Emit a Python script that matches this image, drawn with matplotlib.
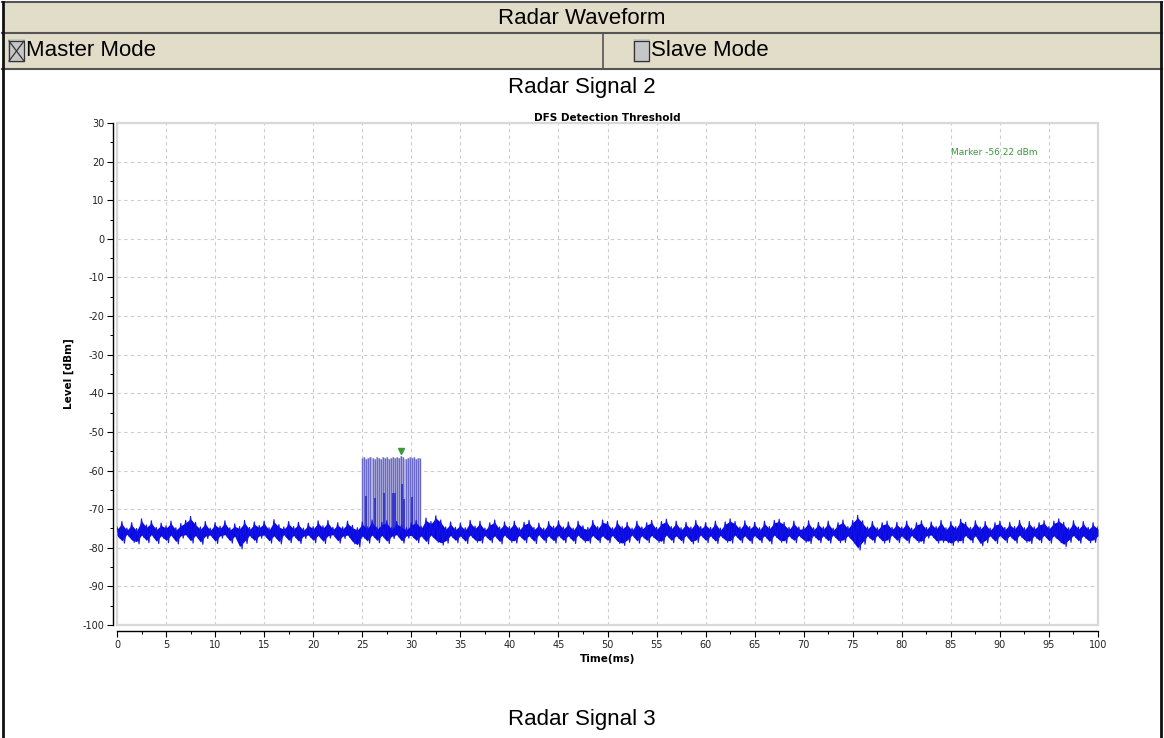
import numpy as np
import matplotlib
matplotlib.use("Agg")
import matplotlib.pyplot as plt
from matplotlib.patches import Rectangle
from matplotlib.lines import Line2D
import matplotlib.transforms as mtransforms

# ---------------- data ----------------
x_ticks = [0, 5, 10, 15, 20, 25, 30, 35, 40, 45, 50, 55, 60, 65, 70, 75, 80, 85, 90, 95, 100]
y_ticks = [30, 20, 10, 0, -10, -20, -30, -40, -50, -60, -70, -80, -90, -100]
y_tick_labels = ["30", "20", "10", "0", "-10", "-20", "-30", "-40", "-50", "-60", "-70", "-80", "-90", "-100"]

noise_step_ms = 0.5
noise_hi = [
    -74.6, -73.2, -74.9, -73.5, -75.0, -72.5, -74.1, -73.0, -74.7, -73.6,
    -74.3, -73.1, -74.8, -73.7, -72.9, -71.9, -73.4, -74.6, -73.2, -74.9,
    -73.5, -74.4, -73.0, -74.8, -73.8, -74.5, -72.9, -74.7, -73.3, -74.2,
    -73.1, -74.8, -72.7, -74.0, -74.6, -73.2, -74.5, -73.4, -74.9, -73.6,
    -74.5, -73.0, -74.3, -72.9, -74.7, -73.5, -74.6, -73.1, -74.2, -74.8,
    -73.3, -74.5, -72.8, -74.6, -73.4, -73.0, -74.7, -73.2, -74.1, -74.8,
    -73.5, -72.9, -74.4, -72.3, -73.2, -71.7, -72.8, -74.6, -73.3, -74.7,
    -73.6, -74.8, -72.9, -74.4, -73.1, -74.9, -73.5, -72.8, -74.6, -73.3,
    -74.5, -73.1, -74.8, -73.4, -72.9, -74.7, -73.6, -74.9, -73.2, -74.4,
    -73.0, -74.6, -73.3, -74.9, -73.1, -74.3, -74.7, -72.9, -74.5, -72.8,
    -73.2, -74.8, -73.0, -74.5, -73.4, -74.9, -73.1, -74.6, -73.5, -72.9,
    -74.7, -73.2, -72.6, -74.5, -73.1, -74.8, -73.4, -74.6, -72.9, -74.5,
    -73.5, -74.7, -73.1, -74.9, -73.3, -72.5, -73.2, -74.6, -73.0, -74.5,
    -73.4, -74.8, -73.1, -74.5, -72.9, -72.6, -73.4, -74.7, -73.1, -74.6,
    -74.5, -73.0, -74.8, -73.4, -74.6, -73.1, -74.9, -73.5, -72.8, -74.5,
    -72.9, -71.6, -73.0, -74.6, -73.2, -74.8, -73.5, -73.1, -74.7, -73.4,
    -74.6, -73.1, -74.9, -73.5, -73.0, -74.7, -73.3, -74.5, -72.9, -74.8,
    -73.2, -74.5, -72.6, -73.4, -74.7, -73.0, -74.6, -73.2, -74.9, -73.5,
    -73.1, -74.7, -73.4, -74.5, -72.9, -74.8, -73.2, -74.6, -73.5, -73.0,
    -74.5, -73.1, -72.5, -73.4, -74.8, -73.0, -74.6, -73.2, -74.7, -73.5,
    -74.5,
]
noise_lo = [
    -77.4, -78.8, -77.1, -78.6, -79.0, -77.3, -78.7, -77.2, -78.9, -77.5,
    -78.7, -77.3, -79.0, -77.5, -77.2, -78.8, -77.4, -79.1, -77.6, -77.3,
    -78.9, -77.5, -77.2, -78.8, -77.6, -80.3, -78.9, -77.4, -78.7, -77.5,
    -77.3, -78.8, -77.5, -79.0, -77.2, -78.7, -77.4, -78.9, -77.6, -77.3,
    -78.7, -77.4, -78.9, -77.5, -77.2, -78.8, -77.6, -77.3, -79.0, -79.8,
    -77.5, -78.8, -77.3, -78.7, -77.4, -78.9, -77.6, -77.2, -78.8, -77.5,
    -77.4, -78.7, -77.5, -79.0, -77.3, -78.6, -79.3, -78.8, -77.4, -78.7,
    -77.5, -78.9, -77.3, -78.6, -78.8, -77.4, -78.7, -77.5, -79.0, -77.3,
    -78.6, -78.8, -77.4, -78.7, -77.5, -78.9, -77.2, -78.7, -77.5, -78.8,
    -77.4, -78.7, -77.5, -78.9, -77.3, -78.6, -78.8, -77.4, -78.7, -77.5,
    -78.7, -77.4, -78.9, -79.4, -78.6, -77.3, -78.8, -77.5, -78.7, -77.4,
    -78.6, -78.9, -77.3, -78.7, -77.5, -78.8, -77.4, -79.0, -78.6, -77.3,
    -78.7, -77.5, -78.9, -77.4, -78.6, -78.8, -77.3, -78.7, -77.5, -78.9,
    -77.4, -78.7, -77.5, -79.0, -77.3, -78.6, -78.8, -77.5, -78.7, -77.4,
    -78.6, -78.9, -77.4, -78.7, -77.5, -78.8, -77.3, -78.7, -78.6, -77.5,
    -78.9, -80.6, -79.1, -77.5, -78.7, -77.4, -78.8, -78.6, -77.3, -78.7,
    -77.5, -78.8, -77.4, -78.7, -78.9, -77.5, -77.3, -78.8, -78.6, -78.7,
    -79.4, -78.6, -78.8, -77.4, -78.7, -77.5, -79.5, -78.7, -77.5, -78.9,
    -77.4, -78.7, -77.5, -78.8, -77.3, -78.6, -78.9, -77.5, -78.7, -77.4,
    -78.8, -77.5, -78.7, -79.7, -78.6, -77.4, -78.8, -77.5, -78.7, -78.6,
    -77.5,
]

pulse_t = [25.00, 25.21, 25.42, 25.63, 25.84, 26.05, 26.26, 26.47, 26.68, 26.89,
           27.10, 27.31, 27.52, 27.73, 27.94, 28.15, 28.36, 28.57, 28.78, 28.99,
           29.20, 29.41, 29.62, 29.83, 30.04, 30.25, 30.46, 30.67, 30.88]
pulse_top = [-56.8, -56.6, -56.9, -56.7, -56.5, -56.8, -57.0, -56.6, -56.7, -56.9,
             -56.5, -56.8, -56.6, -56.9, -56.7, -56.5, -56.8, -56.6, -56.7, -56.22,
             -56.6, -56.9, -56.7, -56.4, -56.8, -56.6, -56.9, -56.7, -56.8]
pulse_floor = -75.5
partial_t = [25.35, 26.34, 27.22, 28.14, 28.38, 29.05, 29.26, 30.10]
partial_lvl = [-66.5, -67.0, -65.8, -65.8, -65.8, -63.4, -67.5, -66.8]

marker_t = 29.0
marker_lvl = -56.22
marker_text = "Marker -56.22 dBm"

# ---------------- figure ----------------
W, H = 1164, 738
fig = plt.figure(figsize=(W / 100, H / 100), dpi=100)
fig.patch.set_facecolor("white")


def fx(x):
    return x / W


def fy(y):
    return 1 - y / H


big = dict(family=["Liberation Sans", "DejaVu Sans"], fontsize=16, color="black")
narrow = ["Liberation Sans Narrow", "DejaVu Sans Condensed", "DejaVu Sans"]

# header background
fig.patches.append(Rectangle((fx(3), fy(69)), fx(1161) - fx(3), fy(2) - fy(69),
                             transform=fig.transFigure, facecolor="#e2ddc8",
                             edgecolor="none", zorder=0))
for yy in (2, 33, 69):
    fig.add_artist(Line2D([fx(2), fx(1162)], [fy(yy), fy(yy)], color="#555555", lw=1.5, zorder=3))
fig.add_artist(Line2D([fx(603), fx(603)], [fy(33), fy(69)], color="#555555", lw=1.2, zorder=3))
fig.add_artist(Line2D([fx(3), fx(3)], [fy(2), fy(738)], color="#111111", lw=2, zorder=3))
fig.add_artist(Line2D([fx(1161), fx(1161)], [fy(2), fy(738)], color="#111111", lw=2, zorder=3))

fig.text(fx(582), fy(18), "Radar Waveform", ha="center", va="center", **big)

# checkboxes
for bx, crossed in ((8, True), (633, False)):
    fig.patches.append(Rectangle((fx(bx), fy(63)), fx(17), 24 / H, transform=fig.transFigure,
                                 facecolor="#c6c6c6", edgecolor="none", zorder=1))
    fig.patches.append(Rectangle((fx(bx + 1), fy(61)), fx(15), 20 / H, transform=fig.transFigure,
                                 facecolor="#c6c6c6", edgecolor="#333333", lw=0.9, zorder=2))
    if crossed:
        fig.add_artist(Line2D([fx(bx + 1), fx(bx + 16)], [fy(41), fy(61)], color="#333333",
                              lw=0.9, zorder=4))
        fig.add_artist(Line2D([fx(bx + 1), fx(bx + 16)], [fy(61), fy(41)], color="#333333",
                              lw=0.9, zorder=4))

fig.text(fx(26), fy(51), "Master Mode", ha="left", va="center", **big)
fig.text(fx(651), fy(51), "Slave Mode", ha="left", va="center", **big)
fig.text(fx(582), fy(88), "Radar Signal 2", ha="center", va="center", **big)
fig.text(fx(582), fy(720), "Radar Signal 3", ha="center", va="center", **big)

# ---------------- axes ----------------
left, right, top, bottom = 117, 1098, 123, 625
ax = fig.add_axes([fx(left), fy(bottom), fx(right - left), (bottom - top) / H])
ax.set_facecolor("white")
ax.set_xlim(0, 100)
ax.set_ylim(-100, 30)

for s in ("top", "right"):
    ax.spines[s].set_visible(False)
ax.spines["left"].set_position(("outward", 3))
ax.spines["bottom"].set_position(("outward", 4.5))
ax.spines["left"].set_linewidth(1.0)
ax.spines["bottom"].set_linewidth(1.0)
ax.add_patch(Rectangle((0, 0), 1, 1, transform=ax.transAxes, fill=False,
                       edgecolor="#d8d8d8", lw=1.6, zorder=1, clip_on=False))

ax.set_xticks(x_ticks)
ax.set_xticklabels([str(v) for v in x_ticks])
ax.set_yticks(y_ticks)
ax.set_yticklabels(y_tick_labels)
ax.set_xticks([v + 2.5 for v in x_ticks[:-1]], minor=True)
ax.set_yticks([v - 5 for v in y_ticks[:-1]], minor=True)
ax.tick_params(which="major", direction="out", length=4, width=0.8, colors="black",
               labelsize=7, labelcolor="#222222", pad=2)
ax.tick_params(which="minor", direction="out", length=2.5, width=0.7, colors="black")
for lab in ax.get_xticklabels() + ax.get_yticklabels():
    lab.set_family(narrow)

ax.grid(True, which="major", color="#cccccc", lw=0.8, linestyle=(0, (3, 3)))
ax.set_axisbelow(True)

ax.set_title("DFS Detection Threshold", fontsize=7.5, fontweight="bold",
             family=narrow, pad=1)
ax.set_xlabel("Time(ms)", fontsize=7.5, fontweight="bold", family=narrow, labelpad=3)
ax.set_ylabel("Level [dBm]", fontsize=7.5, fontweight="bold", family=narrow, labelpad=6)

# pulses
ax.fill_between(pulse_t, pulse_floor, pulse_top, step="mid", color="#c6c6e6", lw=0, zorder=2)
ax.vlines(pulse_t, pulse_floor, pulse_top, color="#6a6ac6", lw=1.0, zorder=2.2)
ax.vlines(partial_t, pulse_floor, partial_lvl, color="#2a2ac8", lw=1.2, zorder=2.4)

# noise band
hi = np.array(noise_hi)
lo = np.array(noise_lo)
nt = np.arange(len(hi)) * noise_step_ms
ax.fill_between(nt, lo + 0.6, hi - 0.6, color="#0808e0", lw=0, zorder=3)
zx = np.empty(2 * len(nt))
zy = np.empty(2 * len(nt))
zx[0::2] = nt
zx[1::2] = nt + noise_step_ms / 2
zy[0::2] = hi
zy[1::2] = lo
ax.plot(zx, zy, color="#1414e8", lw=0.8, zorder=3.2)

# marker
off = mtransforms.offset_copy(ax.transData, fig=fig, x=0, y=3.5, units="points")
ax.plot([marker_t], [marker_lvl], marker="v", color="#3c9a3c", ms=5, transform=off,
        zorder=5, clip_on=False)
ax.text(89.4, 22.3, marker_text, color="#3a983a", fontsize=6.5, ha="center",
        va="center", family=narrow, zorder=5)

fig.savefig("out.png", dpi=100)
